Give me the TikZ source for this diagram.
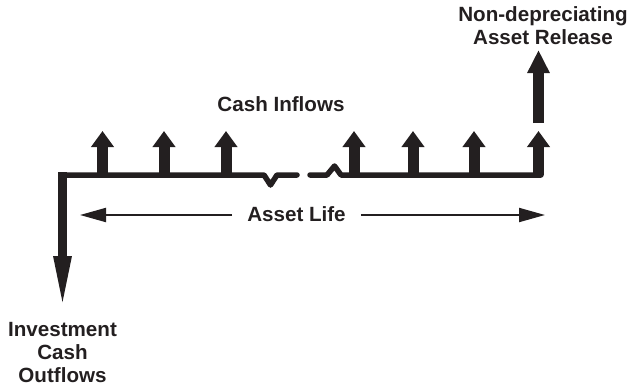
\documentclass[tikz,border=0pt]{standalone}
\usepackage{fontspec}
\setmainfont{Liberation Sans}
\usetikzlibrary{arrows.meta}
\definecolor{ink}{HTML}{231F20}
\begin{document}
\begin{tikzpicture}[x=1pt,y=-1pt,
  label/.style={font=\fontsize{20.6}{23}\selectfont\bfseries, text=ink, inner sep=0pt, align=center, anchor=base},
  axisline/.style={draw=ink, line width=5.5pt, line cap=round, line join=round},
  flowup/.style={draw=ink, line width=11pt, -{Triangle[length=16pt,width=22pt]}},
  release/.style={draw=ink, line width=11pt, -{Triangle[length=23pt,width=21pt]}},
  outflow/.style={draw=ink, line width=8.5pt, -{Triangle[length=54pt,width=16pt]}},
  lifearrow/.style={draw=ink, line width=2pt, -{Triangle[length=26pt,width=14pt]}}]
\useasboundingbox (0,0) rectangle (632,386);

% time line, broken in the middle
\coordinate (t0) at (61,175);
\coordinate (b1) at (297,175);
\coordinate (b2) at (310,175);
\coordinate (t1) at (541,175);
\draw[axisline] (t0) -- (264,175) -- (270.5,185) -- (277,175) -- (b1);
\draw[axisline] (b2) -- (327,175) -- (334.5,166) -- (341,175) -- (t1);

% investment outflow
\coordinate (o0) at (62.5,172.3);
\coordinate (o1) at (62.5,310);
\draw[outflow] (o0) -- (o1);

% periodic cash inflows
\foreach \x [count=\i] in {102.5,164,226,354,413,474,538.5} {
  \coordinate (f\i) at (\x,175);
  \coordinate (g\i) at (\x,131);
  \draw[flowup] (f\i) -- (g\i);
}

% asset release at the end of life
\coordinate (r0) at (538.5,123);
\coordinate (r1) at (538.5,50);
\draw[release] (r0) -- (r1);

% labels (multi-line labels are placed by the baseline of their last line)
\node[label] (inflows) at (281,111) {Cash Inflows};
\node[label] (rel) at (543,44) {Non-depreciating\\Asset Release};
\node[label] (outflows) at (62.5,382.5) {Investment\\Cash\\Outflows};
\node[label, inner xsep=15pt] (life) at (296.5,221) {Asset Life};

% asset life span
\coordinate (lifeL) at (80,215);
\coordinate (lifeR) at (545,215);
\draw[lifearrow] (life.west |- lifeL) -- (lifeL);
\draw[lifearrow] (life.east |- lifeR) -- (lifeR);
\end{tikzpicture}
\end{document}
